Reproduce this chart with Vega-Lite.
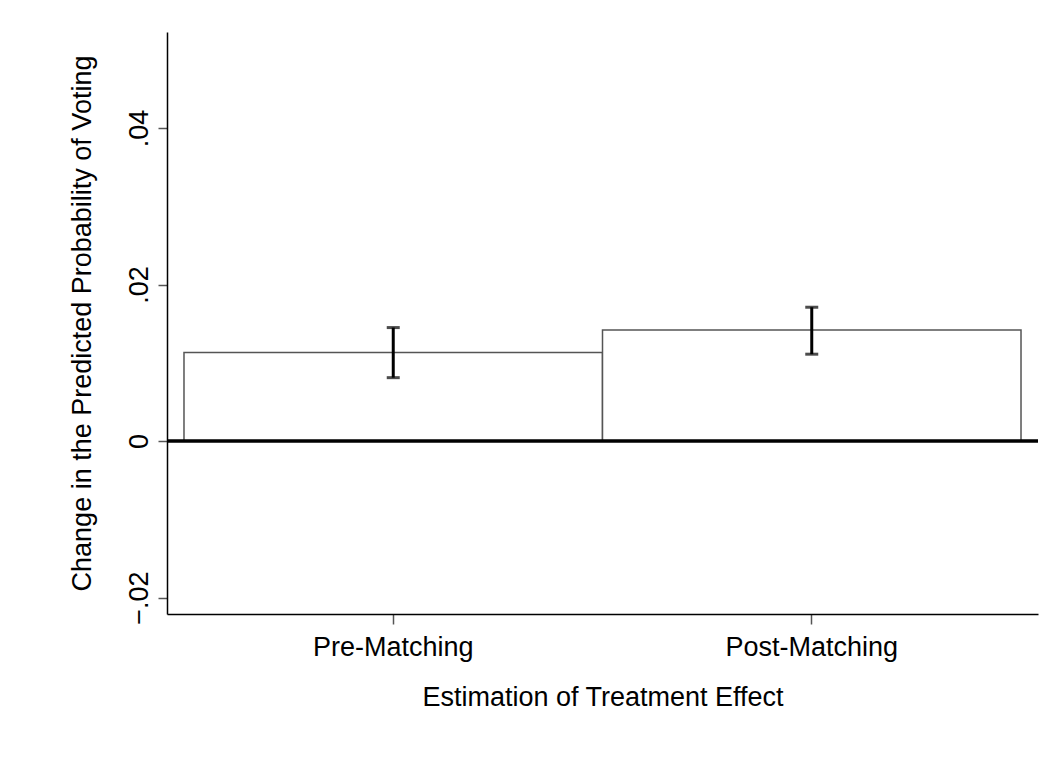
{
  "$schema": "https://vega.github.io/schema/vega-lite/v6.json",
  "width": 871,
  "height": 582,
  "autosize": {"type": "none"},
  "padding": {"left": 167, "top": 32, "right": 19, "bottom": 157},
  "background": "white",
  "config": {
    "font": "Liberation Sans",
    "view": {"stroke": null},
    "axis": {"grid": false}
  },
  "data": {
    "values": [
      {"stage": "Pre-Matching", "effect": 0.0113, "lo": 0.0081, "hi": 0.0145},
      {"stage": "Post-Matching", "effect": 0.0142, "lo": 0.0111, "hi": 0.0171}
    ]
  },
  "encoding": {
    "x": {
      "field": "stage",
      "type": "nominal",
      "sort": ["Pre-Matching", "Post-Matching"],
      "scale": {"paddingInner": 0, "paddingOuter": 0.0406},
      "axis": {
        "title": "Estimation of Treatment Effect",
        "labelAngle": 0,
        "labelFontSize": 27,
        "labelColor": "black",
        "labelBaseline": "alphabetic",
        "labelPadding": 31,
        "tickSize": 10,
        "tickColor": "#555",
        "tickWidth": 1.5,
        "domainColor": "black",
        "domainWidth": 1.5,
        "titleFontSize": 27,
        "titleFontWeight": "normal",
        "titleColor": "black",
        "titleBaseline": "alphabetic",
        "titleY": 91
      }
    }
  },
  "layer": [
    {
      "mark": {"type": "bar", "fill": "white", "stroke": "#555", "strokeWidth": 1.5},
      "encoding": {
        "y": {
          "field": "effect",
          "type": "quantitative",
          "scale": {"domain": [-0.0221, 0.05227], "nice": false, "zero": false},
          "axis": {
            "title": "Change in the Predicted Probability of Voting",
            "values": [-0.02, 0, 0.02, 0.04],
            "labelExpr": "datum.value == 0 ? '0' : replace(format(datum.value, '.2f'), '0.', '.')",
            "labelAngle": -90,
            "labelAlign": "center",
            "labelBaseline": "alphabetic",
            "labelFontSize": 27,
            "labelColor": "black",
            "labelPadding": 11,
            "tickSize": 9,
            "tickColor": "#555",
            "tickWidth": 1.5,
            "domainColor": "black",
            "domainWidth": 1.5,
            "titleFontSize": 27,
            "titleFontWeight": "normal",
            "titleColor": "black",
            "titleAngle": -90,
            "titleAlign": "center",
            "titleBaseline": "alphabetic",
            "titleX": -77,
            "titleY": 291
          }
        }
      }
    },
    {
      "mark": {"type": "rule", "color": "black", "strokeWidth": 3},
      "encoding": {"y": {"datum": 0, "type": "quantitative"}, "x": {"value": 0}, "x2": {"value": 871}}
    },
    {
      "mark": {"type": "rule", "color": "black", "strokeWidth": 3},
      "encoding": {
        "y": {"field": "lo", "type": "quantitative"},
        "y2": {"field": "hi"}
      }
    },
    {
      "mark": {"type": "tick", "color": "black", "thickness": 3, "size": 13, "orient": "horizontal"},
      "encoding": {"y": {"field": "lo", "type": "quantitative"}}
    },
    {
      "mark": {"type": "tick", "color": "black", "thickness": 3, "size": 13, "orient": "horizontal"},
      "encoding": {"y": {"field": "hi", "type": "quantitative"}}
    }
  ]
}
